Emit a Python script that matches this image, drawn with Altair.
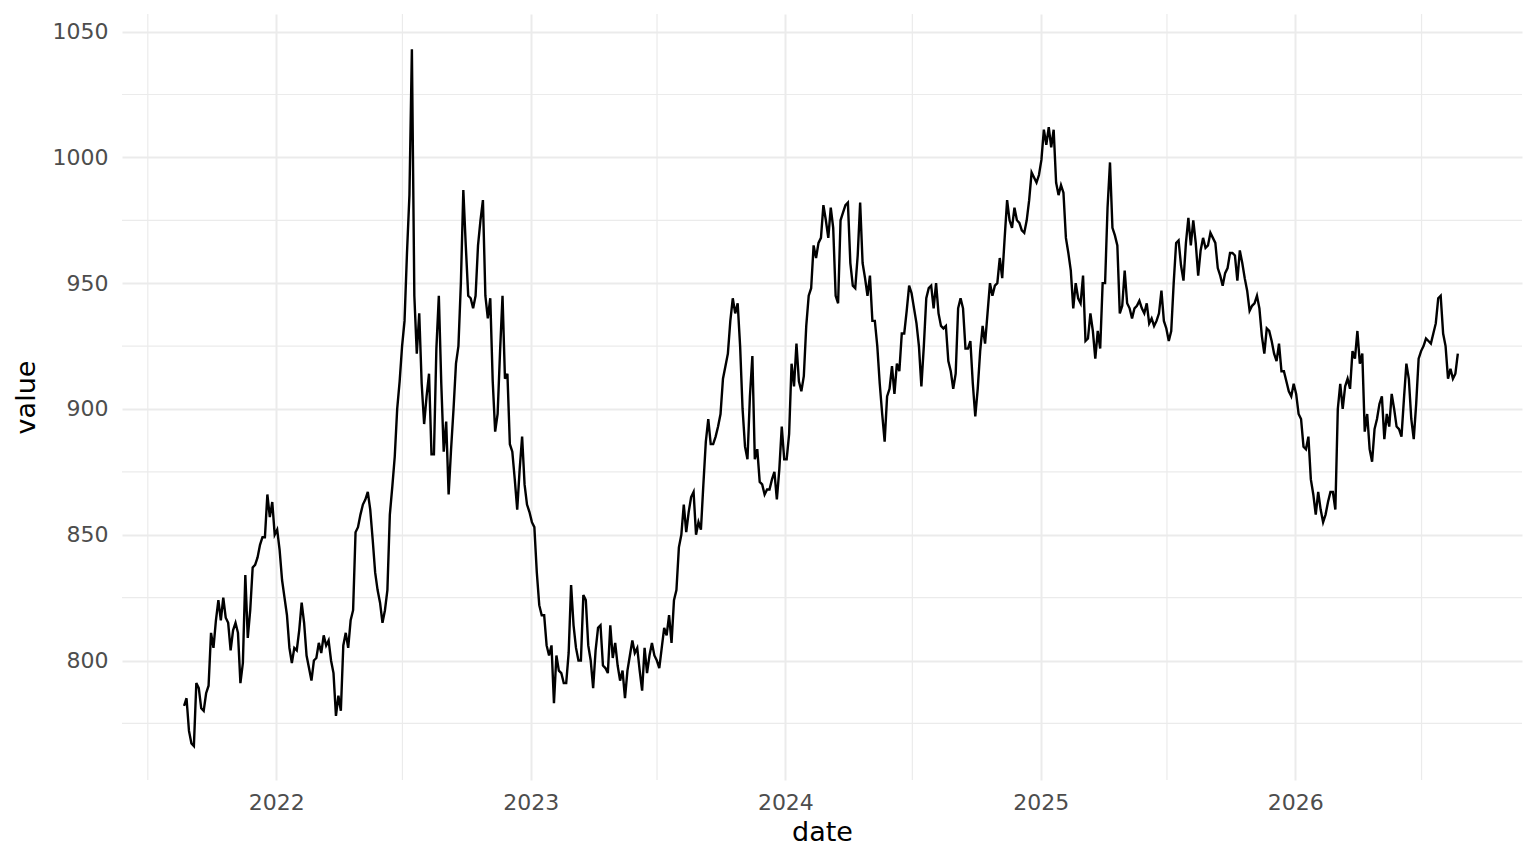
import altair as alt
import pandas as pd

# Values, in date order (roughly twice a week)
seg_2021_22 = [
    782, 785, 772, 767, 766, 791, 789, 781, 780, 787,
    790, 811, 805, 816, 824, 816, 825, 817, 815, 804,
    812, 815, 811, 791, 799, 834, 809, 820, 837, 838,
    841, 846, 849, 849, 866, 857, 863, 850, 852, 844,
    832, 825, 818, 805, 799, 805, 804, 812, 823, 815,
    802, 797, 792, 800, 801, 807, 803, 810, 806, 808,
    800, 795, 778, 786, 780, 806, 811, 805, 816, 820,
    851, 853, 858, 862, 864, 867, 860, 848, 835, 828,
    823, 815, 820, 828, 858, 869,
]
seg_2022_b = [
    881, 900, 911, 925,
    935, 962, 985, 1043, 945, 922, 938, 910, 894, 905,
    914, 882, 882, 924, 945, 910, 883, 895, 866, 884,
    900, 918, 925, 950, 987, 965, 945, 944, 940, 945,
    965, 975, 983, 945, 936, 944, 911, 891, 898, 923,
    945, 912, 914, 886, 883, 872, 860, 876, 889, 870,
    862, 859, 855, 853,
]
seg_2023 = [
    835, 822, 818, 818, 806, 802,
    806, 783, 802, 796, 795, 791, 791, 803, 830, 814,
    805, 800, 800, 826, 824, 806, 800, 789, 804, 813,
    814, 798, 797, 795, 814, 801, 807, 798, 792, 796,
    785, 796, 802, 808, 803, 805, 796, 788, 805, 795,
    802, 807, 802, 800, 797, 805, 813, 810, 818, 807,
    824, 828, 845, 850, 862, 851, 859, 865, 867, 850,
    855, 852, 870, 887, 896, 886, 886, 889, 893, 898,
    912, 917, 922, 935, 944, 938, 942, 925, 900, 885,
    880, 905, 921, 880, 884, 871, 870, 866, 868, 868,
    872, 875, 864, 876, 893, 880, 880, 890,
]
seg_2024 = [
    918, 909,
    926, 911, 907, 913, 933, 945, 948, 965, 960, 966,
    968, 981, 975, 968, 980, 972, 945, 942, 975, 978,
    981, 982, 958, 949, 948, 961, 982, 958, 952, 945,
    953, 935, 935, 925, 910, 898, 887, 905, 908, 917,
    906, 918, 915, 930, 930, 939, 949, 946, 940, 934,
    925, 909, 925, 944, 948, 949, 940, 950, 938, 933,
    932, 933, 919, 915, 908, 914, 940, 944, 940, 924,
    924, 927, 910, 897, 908, 923, 933, 926, 938, 950,
    945, 949, 950, 960, 952, 968, 983, 975, 972, 980,
    975, 974, 971, 970, 975, 983, 994, 992, 990, 993,
]
seg_2025 = [
    999, 1011, 1005, 1012, 1004, 1011, 990, 985, 989, 986,
    968, 962, 955, 940, 950, 944, 942, 953, 927, 928,
    938, 931, 920, 931, 924, 950, 950, 980, 998, 972,
    969, 965, 938, 941, 955, 942, 940, 936, 940, 941,
    943, 940, 938, 942, 934, 936, 933, 935, 938, 947,
    935, 932, 927, 931, 950, 966, 967, 957, 951, 966,
    976, 965, 975, 966, 953, 963, 968, 964, 965, 970,
    968, 966, 956, 953, 949, 954, 956, 962, 962, 961,
    951, 963, 958, 952, 947, 939, 941, 942, 945, 940,
    929, 922, 932, 931, 927, 922, 919, 926, 915, 915,
    911, 907, 905, 910,
]
seg_2026 = [
    906, 898, 896, 885, 884, 889,
    872, 866, 858, 867, 860, 855, 858, 863, 867, 867,
    860, 900, 910, 900, 909, 912, 908, 923, 920, 931,
    918, 922, 891, 898, 884, 879, 892, 896, 902, 905,
    888, 898, 893, 906, 900, 893, 892, 889, 904, 918,
    912, 896, 888, 902, 920, 923, 925, 928, 927, 926,
    930, 934, 944, 945, 930, 925, 912, 916, 912, 914,
    922,
]

values = seg_2021_22 + seg_2022_b + seg_2023 + seg_2024 + seg_2025 + seg_2026
start_date = "2021-08-22"
end_date = "2026-08-22"
dates = pd.date_range(start_date, end_date, periods=len(values))
df = pd.DataFrame({"date": dates, "value": values})

major_years = [2022, 2023, 2024, 2025, 2026]
minor_dates = ["2021-07-01", "2022-07-01", "2023-07-01", "2024-07-01",
               "2025-07-01", "2026-07-01"]
major_values = [800, 850, 900, 950, 1000, 1050]
minor_values = [775, 825, 875, 925, 975, 1025]

GRID = "#EBEBEB"
FONT = "DejaVu Sans"

x_scale = alt.Scale(
    domain=[alt.DateTime(year=2021, month=5, date=25),
            alt.DateTime(year=2026, month=11, date=22)],
    nice=False,
)
y_scale = alt.Scale(domain=[752.5, 1057], nice=False, zero=False)

x_axis = alt.Axis(
    values=[alt.DateTime(year=y, month=1, date=1) for y in major_years],
    format="%Y", title="date", grid=True, gridColor=GRID, gridWidth=2,
    domain=False, ticks=False, labelFont=FONT, labelFontSize=22,
    labelColor="#4D4D4D", labelPadding=12, titleFont=FONT,
    titleFontSize=27, titleFontWeight="normal", titleColor="black",
    titlePadding=6,
)
y_axis = alt.Axis(
    values=major_values, format="d", title="value", grid=True,
    gridColor=GRID, gridWidth=2, domain=False, ticks=False,
    labelFont=FONT, labelFontSize=22, labelColor="#4D4D4D",
    labelPadding=14, titleFont=FONT, titleFontSize=27,
    titleFontWeight="normal", titleColor="black", titlePadding=12,
)

minor_x = alt.Chart(pd.DataFrame({"date": pd.to_datetime(minor_dates)})).mark_rule(
    color=GRID, strokeWidth=1.2
).encode(x=alt.X("date:T", scale=x_scale))

minor_y = alt.Chart(pd.DataFrame({"value": minor_values})).mark_rule(
    color=GRID, strokeWidth=1.2
).encode(y=alt.Y("value:Q", scale=y_scale))

line = alt.Chart(df).mark_line(color="black", strokeWidth=2.4).encode(
    x=alt.X("date:T", scale=x_scale, axis=x_axis),
    y=alt.Y("value:Q", scale=y_scale, axis=y_axis),
)

chart = (
    alt.layer(minor_x, minor_y, line)
    .properties(
        width=1400, height=766,
        padding={"left": 114, "top": 6, "right": 6, "bottom": 76},
        autosize=alt.AutoSizeParams(type="none"),
        background="white",
    )
    .configure_view(stroke=None)
)

chart.save("out.html", embed_options={"renderer": "svg", "actions": False})
